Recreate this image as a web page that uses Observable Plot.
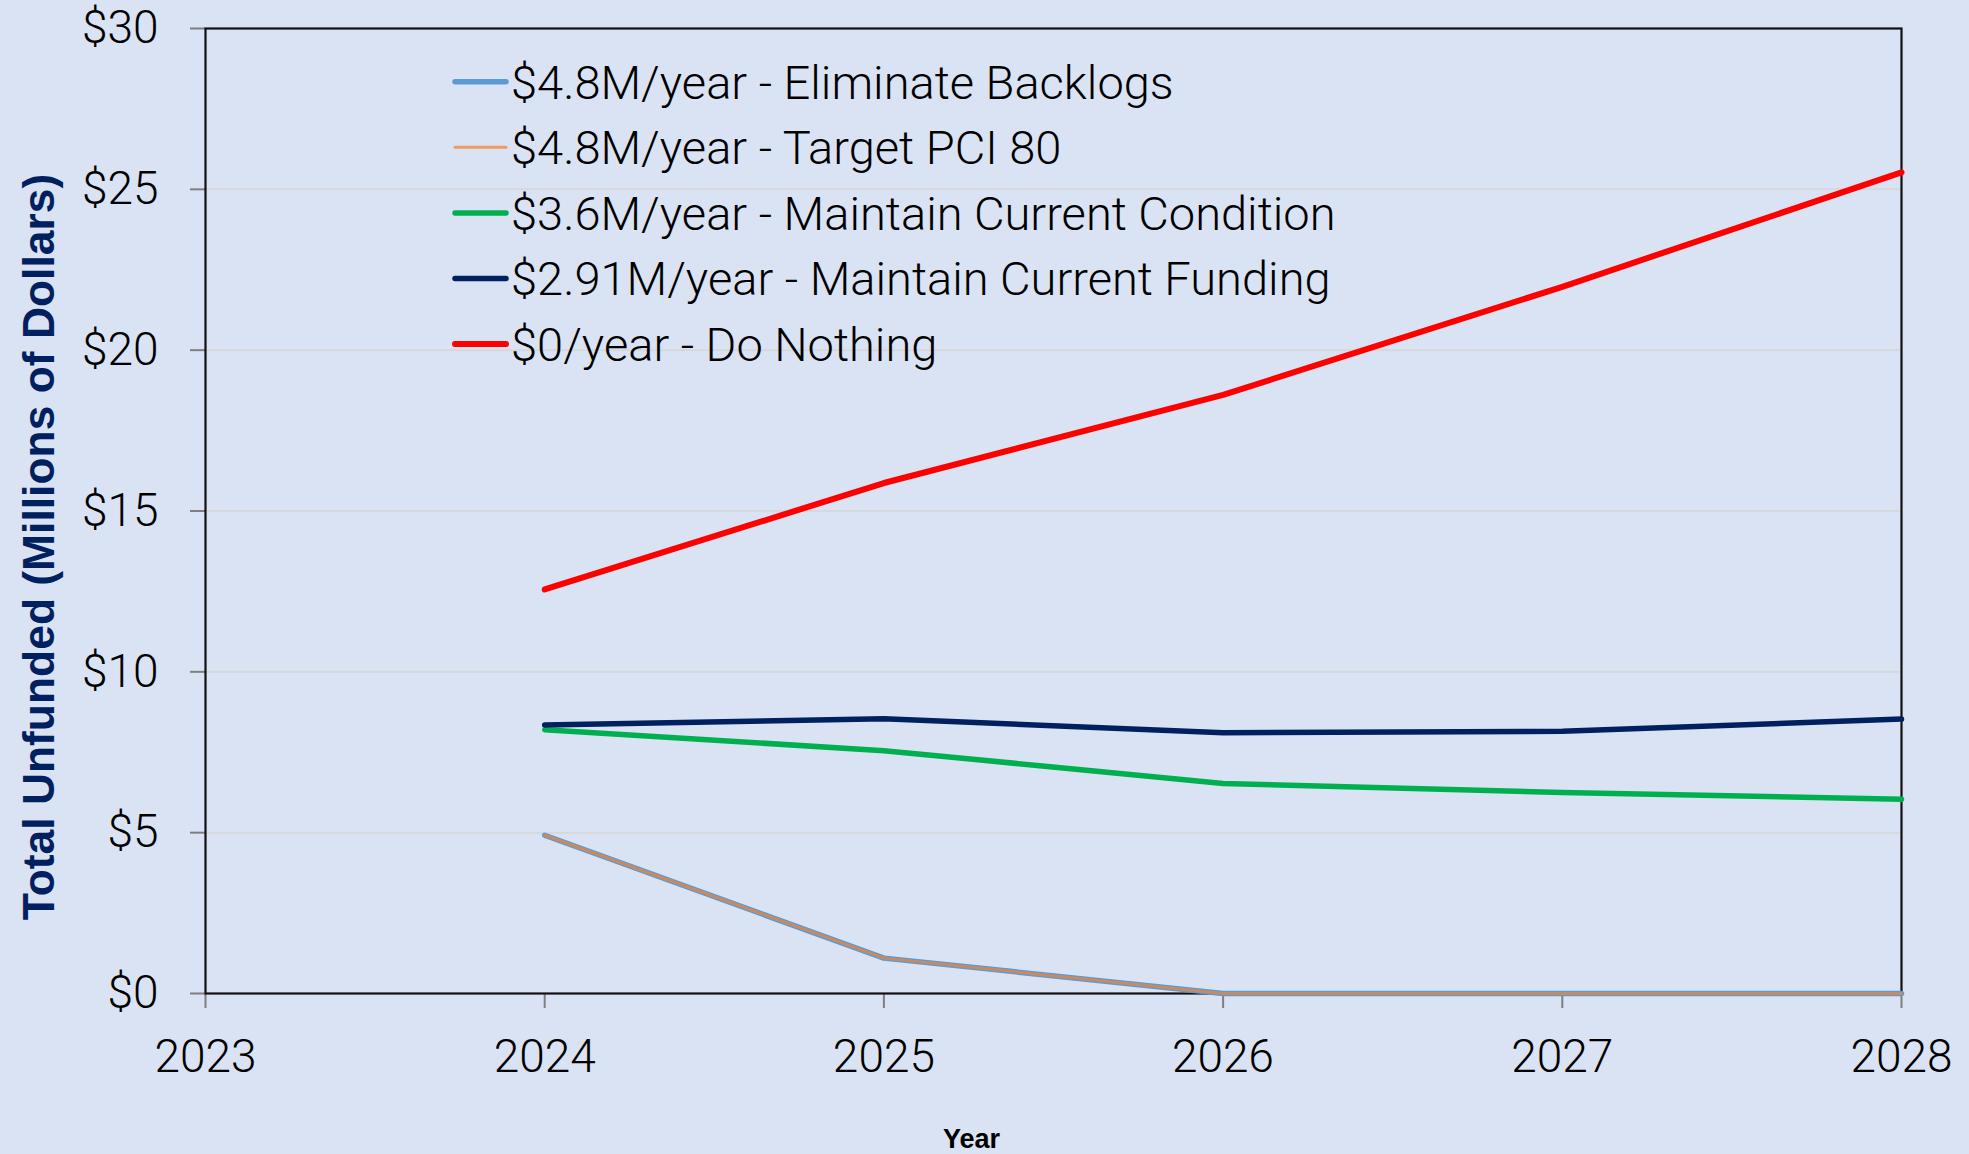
<!DOCTYPE html>
<html>
<head>
<meta charset="utf-8">
<script src="https://cdn.jsdelivr.net/npm/d3@7"></script>
<script src="https://cdn.jsdelivr.net/npm/@observablehq/plot@0.6"></script>
<style>
  html, body { margin: 0; padding: 0; background: #DAE3F3; }
  #chart { position: relative; width: 1969px; height: 1154px; }
</style>
</head>
<body>
<div id="chart"></div>
<script>
// ---- data ----
const years = [2024, 2025, 2026, 2027, 2028];
const seriesNames = [
  "$4.8M/year - Eliminate Backlogs",
  "$4.8M/year - Target PCI 80",
  "$3.6M/year - Maintain Current Condition",
  "$2.91M/year - Maintain Current Funding",
  "$0/year - Do Nothing"
];
const eliminateBacklogs = [4.92, 1.1, 0, 0, 0];
const targetPci80 = [4.92, 1.1, 0, 0, 0];
const maintainCondition = [8.2, 7.55, 6.53, 6.25, 6.04];
const maintainFunding = [8.35, 8.54, 8.11, 8.15, 8.53];
const doNothing = [12.56, 15.87, 18.61, 21.97, 25.53];
const xTicks = [2023, 2024, 2025, 2026, 2027, 2028];
const yTicks = [0, 5, 10, 15, 20, 25, 30];

// ---- styles ----
const seriesValues = [eliminateBacklogs, targetPci80, maintainCondition, maintainFunding, doNothing];
const lineColors = ["#5B9BD5", "#C98A5F", "#00B050", "#002060", "#FF0000"];
const legendColors = ["#5B9BD5", "#EE9B64", "#00B050", "#002060", "#FF0000"];
const lineWidths = [5.5, 3, 5.5, 5.5, 6];
const legendWidths = [5.5, 3, 5.5, 5.5, 6];

const tables = seriesValues.map((vals, i) =>
  years.map((yr, j) => ({ year: yr, value: vals[j], series: seriesNames[i] }))
);

const tickFont = "Roboto, 'Liberation Sans', sans-serif";

const chart = Plot.plot({
  width: 1969,
  height: 1154,
  marginLeft: 205,
  marginRight: 68,
  marginTop: 28,
  marginBottom: 161,
  style: { background: "transparent", fontFamily: tickFont, fontWeight: 300, color: "#000", overflow: "visible" },
  x: { domain: [2023, 2028] },
  y: { domain: [0, 30] },
  marks: [
    Plot.gridY(yTicks.filter(d => d > 0 && d < 30), { stroke: "#D5D8DD", strokeOpacity: 1, strokeWidth: 2 }),
    Plot.axisY(yTicks, {
      tickFormat: d => "$" + d, tickSize: 15, tickPadding: 32,
      stroke: "#7f7f7f", strokeWidth: 2, fill: "#000", fontSize: 46, label: null
    }),
    Plot.axisX(xTicks, {
      tickFormat: d => String(d), tickSize: 15, tickPadding: 31,
      stroke: "#7f7f7f", strokeWidth: 2, fill: "#000", fontSize: 46, label: null
    }),
    Plot.frame({ stroke: "#111", strokeWidth: 2.2 }),
    ...tables.map((t, i) => Plot.line(t, {
      x: "year", y: "value", stroke: lineColors[i], strokeWidth: lineWidths[i],
      strokeLinecap: "round", strokeLinejoin: "round"
    })),
    Plot.text(["Total Unfunded (Millions of Dollars)"], {
      frameAnchor: "left", rotate: -90, dx: -166, dy: 36, textAnchor: "middle", lineAnchor: "middle",
      fontSize: 44.4, fontWeight: "bold", fontFamily: "'Liberation Sans', Arial, sans-serif", fill: "#002060"
    }),
    Plot.text(["Year"], {
      frameAnchor: "bottom", dx: -82, dy: 146, textAnchor: "middle", lineAnchor: "middle",
      fontSize: 27, fontWeight: "bold", fontFamily: "'Liberation Sans', Arial, sans-serif", fill: "#000"
    })
  ]
});

document.getElementById("chart").appendChild(chart);

// ---- legend (inside plot area) ----
const svg = d3.select(chart);
const lg = svg.append("g").attr("class", "legend").attr("text-anchor", "start");
const rowY0 = 81.7, rowStep = 65.6;
seriesNames.forEach((name, i) => {
  const y = rowY0 + i * rowStep;
  lg.append("line")
    .attr("x1", 455).attr("x2", 506).attr("y1", y).attr("y2", y)
    .attr("stroke", legendColors[i]).attr("stroke-width", legendWidths[i])
    .attr("stroke-linecap", "round");
  lg.append("text")
    .attr("x", 511).attr("y", y)
    .attr("dy", "0.36em")
    .attr("text-anchor", "start")
    .attr("font-family", tickFont)
    .attr("font-weight", 300)
    .attr("font-size", 47)
    .attr("fill", "#000")
    .text(name);
});
</script>
</body>
</html>
